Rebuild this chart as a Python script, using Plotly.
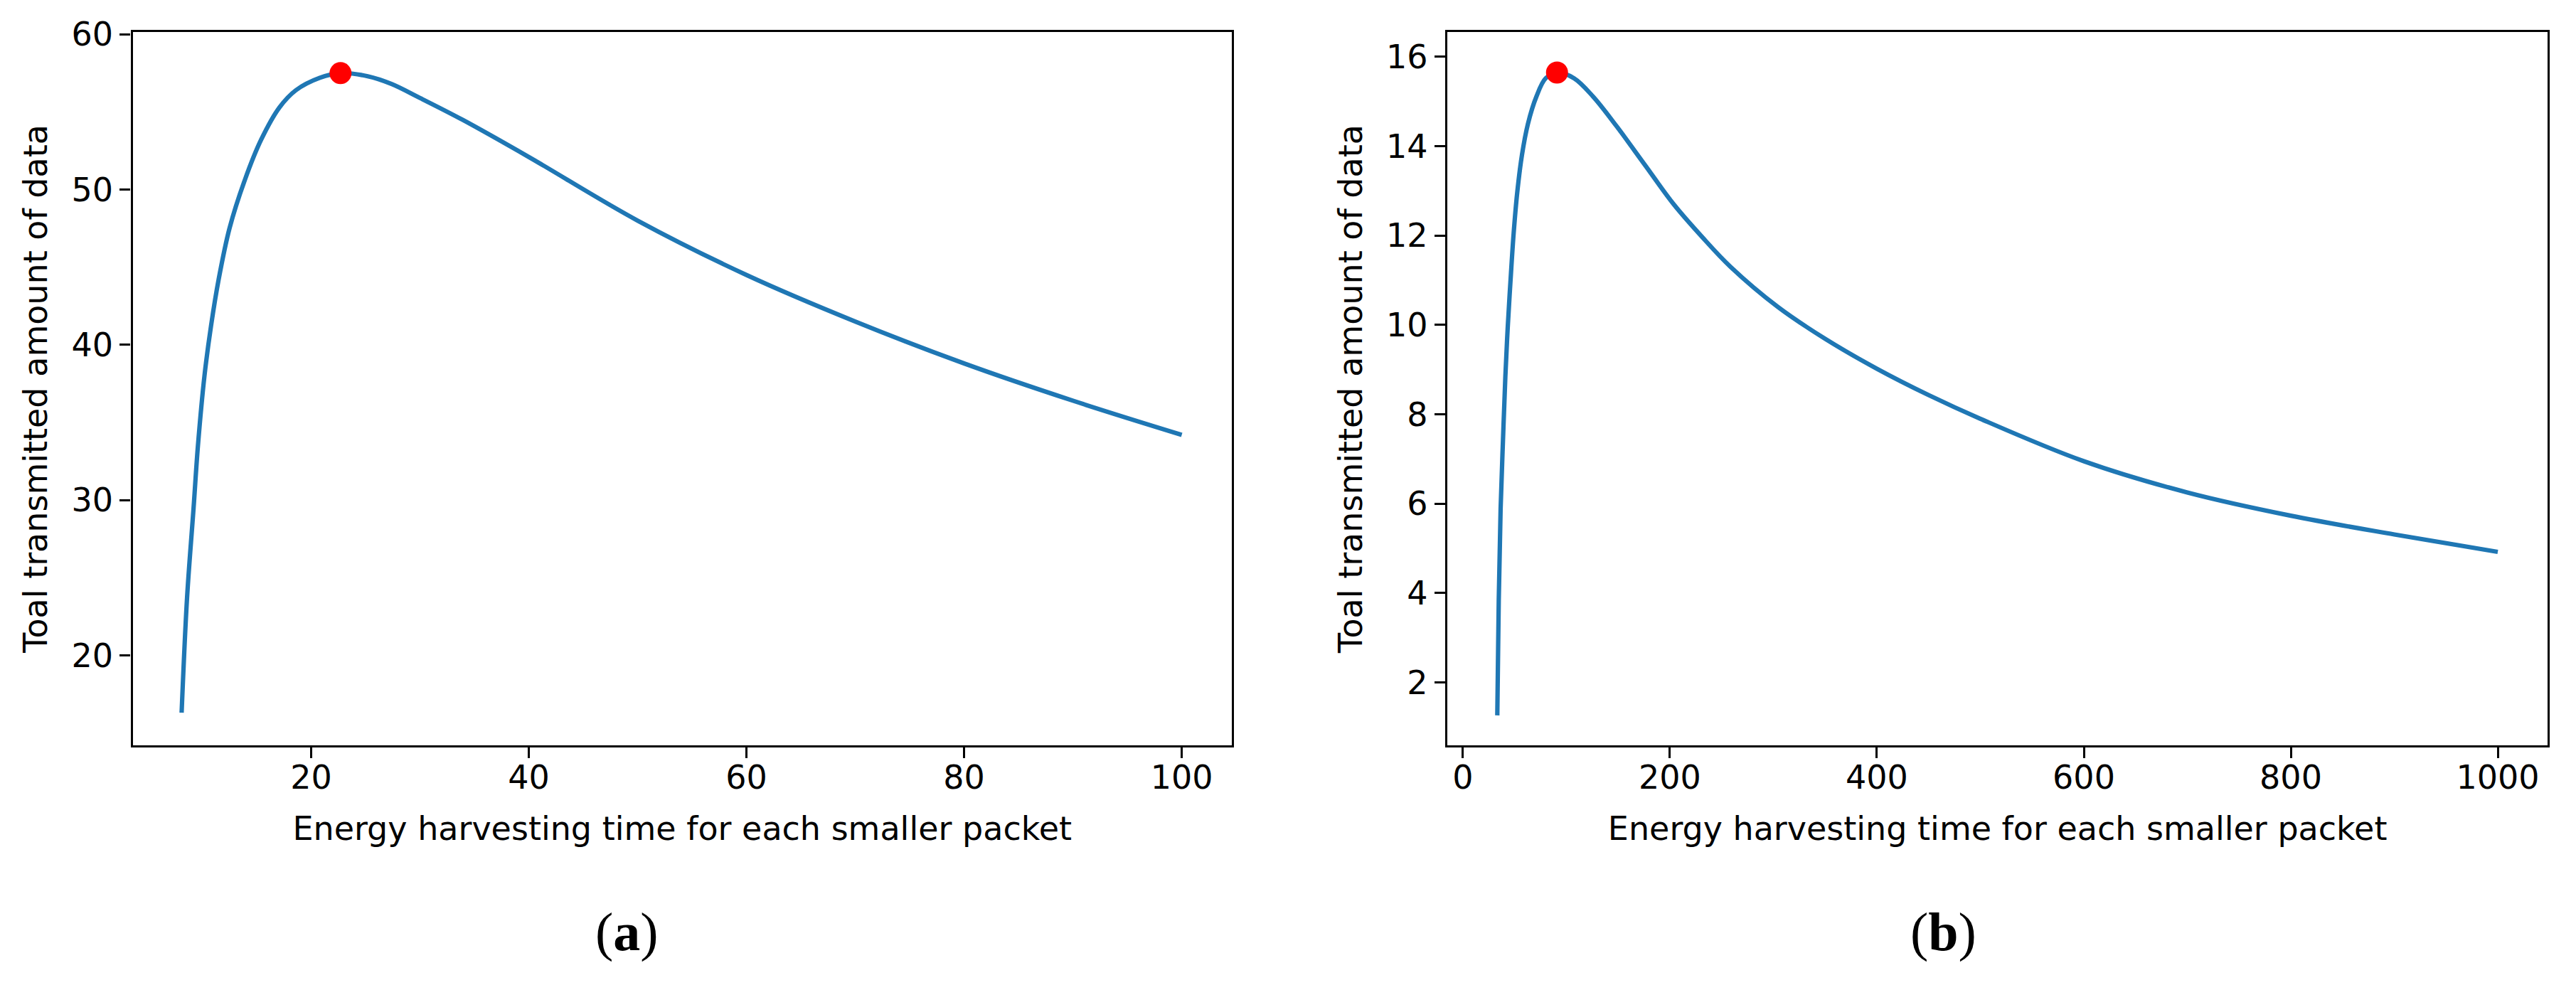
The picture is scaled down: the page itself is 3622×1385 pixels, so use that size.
import plotly.graph_objects as go

# Panel (a): energy harvesting time vs. transmitted data
time_a = [8.1, 8.6, 9.2, 9.6, 10.2, 10.8, 11.5, 12.5, 13.9, 15.4, 17.1, 18.6, 20.8, 22.7,
          25.2, 27.4, 30.0, 33.9, 40, 50, 60, 70, 80, 90, 100]
data_a = [16.3, 23.7, 29.5, 33.5, 38.0, 41.2, 44.2, 47.5, 50.6, 53.2, 55.3, 56.4, 57.2, 57.5,
          57.3, 56.8, 55.9, 54.5, 52.1, 48.0, 44.5, 41.5, 38.8, 36.4, 34.2]
peak_a = (22.7, 57.5)

# Panel (b)
time_b = [33.2, 34.6, 36.4, 38.7, 41.0, 43.3, 46.0, 49.0, 52.4, 57.0, 62.8, 70.8, 79.9, 90.9,
          107.4, 125.8, 148.7, 176.2, 203.7, 231.1, 258.6, 304.5, 350, 400, 450, 500, 600,
          700, 800, 900, 1000]
data_b = [1.26, 3.83, 5.88, 7.42, 8.85, 9.95, 11.0, 12.05, 12.95, 13.8, 14.5, 15.1, 15.52,
          15.65, 15.52, 15.11, 14.44, 13.57, 12.70, 11.97, 11.30, 10.40, 9.69, 9.02, 8.43, 7.9,
          6.95, 6.25, 5.73, 5.31, 4.92]
peak_b = (90.9, 15.65)

x_title = "Energy harvesting time for each smaller packet"
y_title = "Toal transmitted amount of data"
panel_labels = ["(<b>a</b>)", "(<b>b</b>)"]

W, H = 3622, 1385
blue = "#1f77b4"
font = dict(family="DejaVu Sans", size=46, color="black")
line_style = dict(color=blue, width=6.2, shape="spline", smoothing=1.0)

fig = go.Figure()
fig.add_trace(go.Scatter(x=time_a, y=data_a, mode="lines", line=line_style,
                         xaxis="x", yaxis="y", showlegend=False))
fig.add_trace(go.Scatter(x=[peak_a[0]], y=[peak_a[1]], mode="markers", marker=dict(color="red", size=31),
                         xaxis="x", yaxis="y", showlegend=False))
fig.add_trace(go.Scatter(x=time_b, y=data_b, mode="lines", line=line_style,
                         xaxis="x2", yaxis="y2", showlegend=False))
fig.add_trace(go.Scatter(x=[peak_b[0]], y=[peak_b[1]], mode="markers", marker=dict(color="red", size=31),
                         xaxis="x2", yaxis="y2", showlegend=False))

axis_common = dict(showline=True, mirror=True, linecolor="black", linewidth=3.3, showgrid=False, zeroline=False,
                   ticks="outside", ticklen=15, tickwidth=3.3, tickcolor="black", tickfont=font,
                   automargin=False)

y_bot = (H - 1048) / H
y_top = (H - 45) / H

fig.update_layout(
    width=W, height=H, margin=dict(l=0, r=0, t=0, b=0),
    plot_bgcolor="white", paper_bgcolor="white", font=font,
    xaxis=dict(axis_common, domain=[186.5 / W, 1732 / W], range=[3.6, 104.6], tick0=20, dtick=20,
               ticklabelstandoff=-12, title=dict(text=x_title, font=font, standoff=30), anchor="y"),
    yaxis=dict(axis_common, domain=[y_bot, y_top], range=[14.2, 60.15], tick0=20, dtick=10,
               title=dict(text=y_title, font=font, standoff=20), anchor="x"),
    xaxis2=dict(axis_common, domain=[2035 / W, 3582.3 / W], range=[-15.1, 1048.3], tick0=0, dtick=200,
                ticklabelstandoff=-12, title=dict(text=x_title, font=font, standoff=30), anchor="y2"),
    yaxis2=dict(axis_common, domain=[y_bot, y_top], range=[0.59, 16.557], tick0=2, dtick=2,
                title=dict(text=y_title, font=font, standoff=20), anchor="x2"),
)

for label, cx in zip(panel_labels, [881 / W, 2732 / W]):
    fig.add_annotation(text=label, x=cx, y=(H - 1310) / H, xref="paper", yref="paper",
                       xanchor="center", yanchor="middle", showarrow=False,
                       font=dict(family="Liberation Serif", size=76, color="black"))

# drop the browser's default page margin so the figure sits at the window corner
fig.write_html("out.html", config={"displayModeBar": False},
               post_script="document.body.style.margin='0';")
